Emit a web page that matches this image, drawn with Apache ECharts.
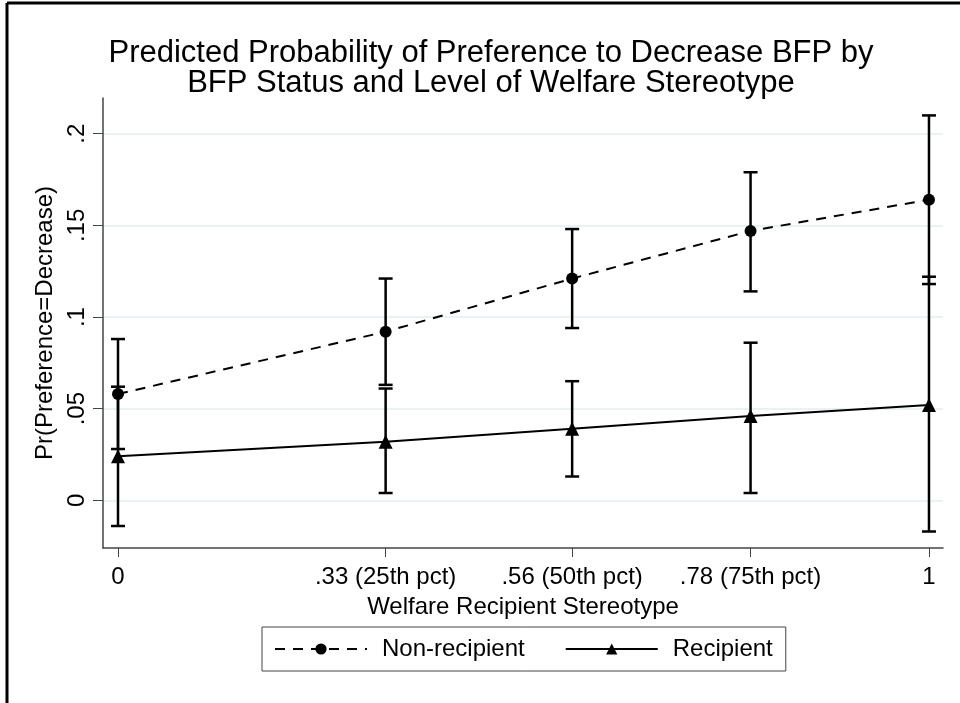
<!DOCTYPE html>
<html>
<head>
<meta charset="utf-8">
<script src="https://cdn.jsdelivr.net/npm/echarts@6/dist/echarts.min.js"></script>
<style>
  html, body { margin: 0; padding: 0; background: #fff; }
  #chart { width: 960px; height: 703px; }
</style>
</head>
<body>
<div id="chart"></div>
<script>
// stereotype levels (x)
const xLevels = [0, 0.33, 0.56, 0.78, 1];
const xTickLabels = ['0', '.33 (25th pct)', '.56 (50th pct)', '.78 (75th pct)', '1'];
const yTicks = [0, 0.05, 0.1, 0.15, 0.2];
const yTickLabels = ['0', '.05', '.1', '.15', '.2'];

// predicted probabilities and 95% CI
const nonRecipient = [0.058, 0.092, 0.121, 0.147, 0.164];
const nonRecipientLow = [0.028, 0.063, 0.094, 0.114, 0.118];
const nonRecipientHigh = [0.088, 0.121, 0.148, 0.179, 0.210];

const recipient = [0.024, 0.032, 0.039, 0.046, 0.052];
const recipientLow = [-0.014, 0.004, 0.013, 0.004, -0.017];
const recipientHigh = [0.062, 0.061, 0.065, 0.086, 0.122];

const chart = echarts.init(document.getElementById('chart'));

const errorBars = (lo, hi) => xLevels.map((x, i) => [x, lo[i], hi[i]]);

function renderErrorBar(params, api) {
    const top = api.coord([api.value(0), api.value(2)]);
    const bot = api.coord([api.value(0), api.value(1)]);
    const cap = 7;
    const style = { stroke: '#000', lineWidth: 2.5 };
    return {
        type: 'group',
        children: [
            { type: 'line', shape: { x1: top[0], y1: top[1], x2: bot[0], y2: bot[1] }, style },
            { type: 'line', shape: { x1: top[0] - cap, y1: top[1], x2: top[0] + cap, y2: top[1] }, style },
            { type: 'line', shape: { x1: bot[0] - cap, y1: bot[1], x2: bot[0] + cap, y2: bot[1] }, style }
        ]
    };
}

const font = '"Liberation Sans", Arial, sans-serif';

const option = {
    backgroundColor: '#fff',
    animation: false,
    textStyle: { fontFamily: font },
    title: {
        text: 'Predicted Probability of Preference to Decrease BFP by\nBFP Status and Level of Welfare Stereotype',
        left: 486,
        textAlign: 'center',
        top: 33,
        textStyle: { fontSize: 31, fontWeight: 'normal', color: '#000', lineHeight: 30, fontFamily: font }
    },
    graphic: [
        { type: 'line', shape: { x1: 7, y1: 3, x2: 960, y2: 3 }, style: { stroke: '#000', lineWidth: 3 } },
        { type: 'line', shape: { x1: 7, y1: 3, x2: 7, y2: 703 }, style: { stroke: '#000', lineWidth: 3 } }
    ],
    legend: {
        left: 262,
        top: 627,
        orient: 'horizontal',
        borderColor: '#444',
        borderWidth: 1,
        padding: [10, 13, 10, 12],
        itemWidth: 92,
        itemHeight: 14,
        itemGap: 40,
        textStyle: { fontSize: 24, color: '#000', fontFamily: font, padding: [0, 0, 0, 10] },
        data: ['Non-recipient', 'Recipient']
    },
    grid: { left: 103, right: 17, top: 98, bottom: 155, containLabel: false },
    xAxis: {
        type: 'value',
        min: -0.0185,
        max: 1.0173,
        name: 'Welfare Recipient Stereotype',
        nameLocation: 'middle',
        nameGap: 47,
        nameTextStyle: { fontSize: 24, color: '#000' },
        axisLine: { onZero: false, lineStyle: { color: '#444', width: 1.5 } },
        axisTick: { customValues: xLevels, length: 9, lineStyle: { color: '#444' } },
        axisLabel: {
            customValues: xLevels,
            fontSize: 24,
            color: '#000',
            margin: 17,
            formatter: v => xTickLabels[xLevels.findIndex(x => Math.abs(x - v) < 1e-6)]
        },
        splitLine: { show: false }
    },
    yAxis: {
        type: 'value',
        min: -0.026,
        max: 0.2195,
        name: 'Pr(Preference=Decrease)',
        nameLocation: 'middle',
        nameGap: 44,
        nameTextStyle: { fontSize: 24, color: '#000' },
        axisLine: { show: true, onZero: false, lineStyle: { color: '#444', width: 1.5 } },
        axisTick: { show: true, customValues: yTicks, length: 10, lineStyle: { color: '#444' } },
        axisLabel: {
            customValues: yTicks,
            rotate: 90,
            fontSize: 24,
            color: '#000',
            margin: 14,
            formatter: v => yTickLabels[yTicks.findIndex(t => Math.abs(t - v) < 1e-6)]
        },
        splitLine: { show: true, lineStyle: { color: '#eaf2f3', width: 2 } }
    },
    series: [
        {
            name: 'Non-recipient',
            type: 'line',
            data: xLevels.map((x, i) => [x, nonRecipient[i]]),
            symbol: 'circle',
            symbolSize: 12,
            itemStyle: { color: '#000' },
            lineStyle: { color: '#000', width: 2, type: [10, 8] },
            z: 3
        },
        {
            name: 'Recipient',
            type: 'line',
            data: xLevels.map((x, i) => [x, recipient[i]]),
            symbol: 'triangle',
            symbolSize: 14,
            itemStyle: { color: '#000' },
            lineStyle: { color: '#000', width: 2 },
            z: 3
        },
        {
            type: 'custom',
            name: 'ci-non',
            renderItem: renderErrorBar,
            data: errorBars(nonRecipientLow, nonRecipientHigh),
            encode: { x: 0, y: [1, 2] },
            z: 4
        },
        {
            type: 'custom',
            name: 'ci-rec',
            renderItem: renderErrorBar,
            data: errorBars(recipientLow, recipientHigh),
            encode: { x: 0, y: [1, 2] },
            z: 4
        }
    ]
};

chart.setOption(option);
</script>
</body>
</html>
